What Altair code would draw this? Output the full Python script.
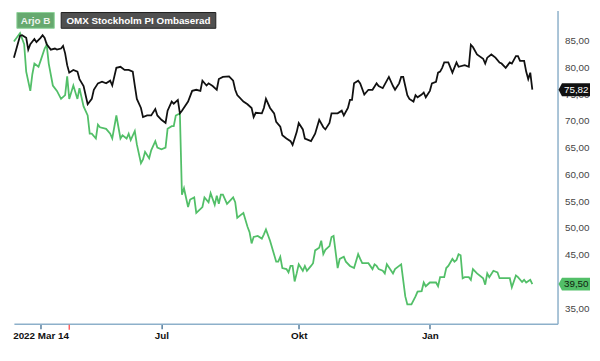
import altair as alt
import pandas as pd

W, H = 552, 318

series_names = ["Arjo B", "OMX Stockholm PI Ombaserad"]

# trading-session index (0 = 2022-03-14) and rebased values
black_idx = [0,3,4,6,7,8,10,11,13,14,15,16,18,20,21,23,24,25,26,27,29,31,32,34,36,38,39,41,43,45,
             47,48,50,52,54,56,58,59,60,62,63,65,67,69,70,72,74,75,77,78,80,81,82,85,87,89,91,92,94,95,
             97,99,100,102,105,107,108,109,112,114,116,117,118,121,122,123,125,127,128,130,
             131,133,135,136,138,139,141,142,145,147,149,151,152,154,155,156,158,160,161,163,
             164,165,166,168,169,171,173,175,177,178,180,182,183,185,186,188,189,190,192,193,
             195,196,197,199,200,201,203,204,206,207,208,209,210,212,214,216,217,220,222,223,
             224,226,229,230,231,233,235,237,238,240,242,243,245,246,247,249,250,251,252,253]
black_val = [81.8,85.9,86.0,85.5,83.3,84.3,85.3,84.7,85.5,86.0,85.5,84.3,83.3,83.5,83.3,83.5,84.0,82.6,80.4,79.0,
             79.5,79.2,77.8,76.5,73.1,74.1,75.8,77.0,77.3,77.0,77.5,76.6,79.9,80.1,79.5,79.5,79.2,76.6,74.1,72.4,
             70.7,71.0,71.0,72.2,71.0,70.2,69.6,71.9,73.6,73.2,73.9,71.4,71.9,73.6,75.6,75.8,75.6,77.5,76.6,77.0,
             76.5,75.8,77.8,78.2,78.3,77.5,75.8,74.8,73.6,73.1,72.4,70.7,71.5,71.4,72.4,74.1,72.4,71.4,69.8,68.9,
             67.3,66.7,66.2,65.5,67.9,69.6,68.4,66.7,66.2,67.6,70.2,68.8,68.4,69.6,71.4,71.4,71.4,71.9,71.0,72.4,
             73.9,73.9,77.0,77.5,77.0,74.9,75.8,75.8,77.0,76.5,76.1,77.5,78.2,76.5,75.8,77.0,78.2,78.2,74.8,74.1,
             73.6,74.8,74.4,74.9,75.3,74.4,75.6,77.0,77.3,79.0,79.2,79.9,80.9,80.9,79.0,80.9,80.1,80.4,80.1,84.2,
             83.8,82.4,81.6,80.7,81.8,82.4,81.8,80.9,80.7,79.9,80.9,80.7,82.1,82.1,81.2,81.2,79.2,77.8,79.0,75.82]

green_idx = [0,3,5,6,8,9,10,12,13,15,16,17,19,21,23,25,26,27,29,31,32,34,36,37,38,40,41,42,45,47,
             48,50,52,53,55,56,57,59,60,62,63,64,66,67,69,70,72,74,75,77,78,79,81,82,83,85,86,88,89,92,
             93,95,96,98,99,100,101,102,104,107,108,109,112,114,115,116,117,119,121,122,
             123,125,128,129,130,131,133,134,135,136,137,138,139,141,142,143,145,146,147,149,
             150,151,152,154,155,156,158,159,161,162,164,166,168,169,170,173,175,176,177,178,
             180,181,182,185,186,188,189,191,192,194,196,197,199,200,201,203,206,207,208,210,
             211,212,214,215,216,217,218,219,220,222,223,224,226,229,230,231,232,234,236,237,
             238,240,242,243,245,246,248,249,250,252,253]
green_val = [84.8,86.4,84.3,79.2,75.6,78.7,80.7,80.1,81.2,83.5,84.2,80.7,76.6,75.6,74.1,74.8,78.3,74.1,76.6,74.1,
             76.1,72.7,71.0,67.6,67.6,66.7,69.3,68.8,68.5,67.6,66.7,71.0,66.7,67.3,66.7,67.6,66.4,68.1,65.6,62.1,
             62.8,64.2,63.0,64.5,66.2,65.0,64.7,65.0,68.5,69.0,69.0,71.0,71.4,56.2,57.4,53.9,55.3,55.7,52.8,53.9,
             55.7,54.8,56.5,54.3,56.0,54.5,56.2,56.2,54.5,55.7,54.8,51.9,52.8,50.2,49.2,47.1,48.3,48.5,48.0,48.8,
             49.7,47.6,43.7,43.7,44.6,42.5,42.3,41.7,42.9,42.9,40.0,41.5,43.2,42.0,42.9,42.0,42.9,43.4,45.8,46.3,
             47.6,45.1,45.9,46.6,48.3,48.5,42.5,44.2,44.6,43.7,42.9,42.5,45.1,44.2,43.4,43.4,42.3,43.2,42.9,42.3,
             42.0,41.5,43.2,41.5,42.3,42.9,43.2,37.2,35.7,35.7,37.2,38.1,38.2,39.8,39.1,39.8,39.8,39.1,40.8,40.8,
             42.5,42.9,44.2,43.7,44.0,45.1,44.9,40.6,40.8,40.8,40.3,42.3,41.5,40.6,39.4,41.5,40.8,42.0,41.7,40.6,
             40.6,40.6,40.6,38.9,41.1,40.8,39.9,40.3,39.8,40.3,39.5]

tick_idx = [13, 72, 139, 203]
tick_lab = ["2022 Mar 14", "Jul", "Okt", "Jan"]
marker_idx = [27]
# 40,00 is hidden behind the 39,50 tag in the reference
y_ticks = [35, 45, 50, 55, 60, 65, 70, 75, 80, 85]

assert len(black_idx) == len(black_val)
assert len(green_idx) == len(green_val)

df = pd.concat([
    pd.DataFrame({"session": green_idx, "value": green_val, "series": series_names[0]}),
    pd.DataFrame({"session": black_idx, "value": black_val, "series": series_names[1]}),
], ignore_index=True)

last_df = pd.DataFrame({
    "series": series_names,
    "value": [green_val[-1], black_val[-1]],
})
last_df["label"] = [f"{v:.2f}".replace(".", ",") for v in last_df["value"]]
leg_df = pd.DataFrame({"series": series_names})

FONT = "Liberation Sans"
AXIS_BLUE = "#8db0ca"

label_expr = " : ".join(f"datum.value == {i} ? '{t}'" for i, t in zip(tick_idx, tick_lab)) + " : ''"

x_scale = alt.Scale(domain=[0, 265.3], nice=False, zero=False)
y_scale = alt.Scale(domain=[32.1, 90.6], nice=False, zero=False)

x_enc = alt.X("session:Q", scale=x_scale, axis=alt.Axis(
    values=tick_idx, labelExpr=label_expr, title=None, grid=False,
    domainColor=AXIS_BLUE, domainWidth=1.5, tickColor="#2b5d85", tickSize=5, tickWidth=1.2,
    labelFont=FONT, labelFontSize=10, labelFontWeight="bold", labelColor="#111111",
    labelPadding=2, labelOverlap=False, labelFlush=False))
y_enc = alt.Y("value:Q", scale=y_scale, axis=alt.Axis(
    orient="right", values=y_ticks,
    labelExpr="replace(format(datum.value, '.2f'), '.', ',')",
    title=None, grid=False, ticks=False, domainColor=AXIS_BLUE, domainWidth=1.5,
    labelFont=FONT, labelFontSize=10, labelColor="#444444", labelPadding=7,
    labelOverlap=False))

color_scale = alt.Scale(domain=series_names, range=["#52bf68", "#111111"])

lines = alt.Chart(df).mark_line(strokeWidth=1.8).encode(
    x=x_enc, y=y_enc,
    color=alt.Color("series:N", scale=color_scale, legend=None),
)

marker = alt.Chart(pd.DataFrame({"session": marker_idx})).mark_rule(
    color="#ff4a4a", strokeWidth=1.3).encode(
    x=x_enc, y=alt.value(H + 1), y2=alt.value(H + 6))

tag_shape = "M-1,0 L-0.78,-0.41 L1,-0.41 L1,0.41 L-0.78,0.41 Z"
tags = alt.Chart(last_df).mark_point(
    shape=tag_shape, size=1024, filled=True, opacity=1, strokeWidth=0).encode(
    x=alt.value(W + 17), y=y_enc,
    color=alt.Color("series:N", scale=color_scale, legend=None))

tag_text_green = alt.Chart(last_df).transform_filter(
    alt.datum.series == series_names[0]).mark_text(
    font=FONT, fontSize=10, align="center", baseline="middle", color="#10200f").encode(
    x=alt.value(W + 19), y=y_enc, text="label:N")
tag_text_black = alt.Chart(last_df).transform_filter(
    alt.datum.series == series_names[1]).mark_text(
    font=FONT, fontSize=10, align="center", baseline="middle", color="#ffffff").encode(
    x=alt.value(W + 19), y=y_enc, text="label:N")

box_green = alt.Chart(leg_df).transform_filter(
    alt.datum.series == series_names[0]).mark_rect(
    fill="#66a96f", stroke="#8fd39a", strokeWidth=1).encode(
    x=alt.value(3), x2=alt.value(41), y=alt.value(2), y2=alt.value(18))
box_green_text = alt.Chart(leg_df).transform_filter(
    alt.datum.series == series_names[0]).mark_text(
    font=FONT, fontSize=10, fontWeight="bold", color="#eef4ee", align="center",
    baseline="middle").encode(x=alt.value(22), y=alt.value(10.5), text="series:N")

box_dark = alt.Chart(leg_df).transform_filter(
    alt.datum.series == series_names[1]).mark_rect(
    fill="#505050", stroke="#1e1e1e", strokeWidth=1).encode(
    x=alt.value(48), x2=alt.value(205), y=alt.value(2), y2=alt.value(18))
box_dark_text = alt.Chart(leg_df).transform_filter(
    alt.datum.series == series_names[1]).mark_text(
    font=FONT, fontSize=10, fontWeight="bold", color="#ffffff", align="center",
    baseline="middle").encode(x=alt.value(126.5), y=alt.value(10.5), text="series:N")

chart = alt.layer(
    lines, marker, tags, tag_text_green, tag_text_black,
    box_green, box_green_text, box_dark, box_dark_text,
).properties(
    width=W, height=H,
    padding={"left": 2, "top": 0, "right": 2, "bottom": 2},
    background="#ffffff",
).configure_view(stroke=None)

chart.save("out.html", embed_options={"renderer": "svg", "actions": False})
